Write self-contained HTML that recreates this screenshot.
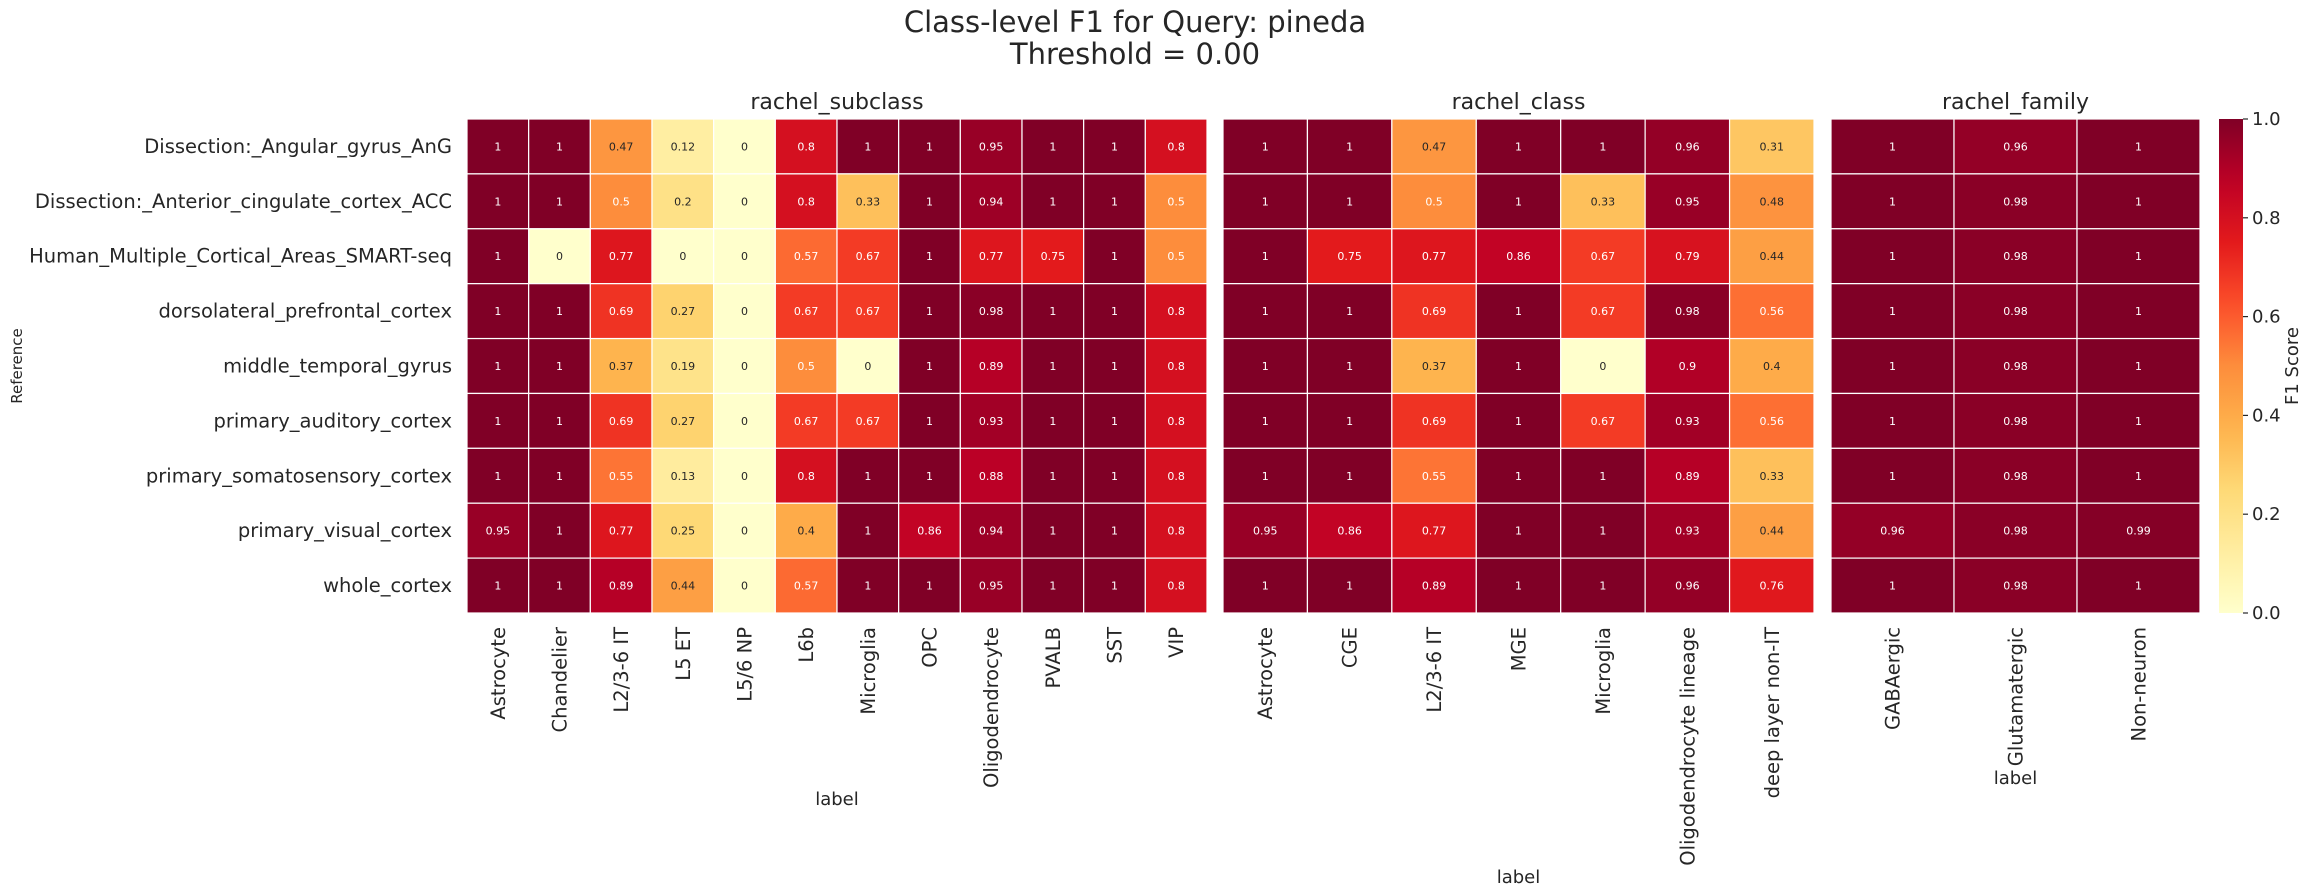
<!DOCTYPE html>
<html><head><meta charset="utf-8"><style>
html,body{margin:0;padding:0;background:#fff;}
svg{display:block;font-family:"DejaVu Sans","Liberation Sans",sans-serif;}
</style></head><body>
<svg id="chart" width="2311" height="895" viewBox="0 0 2311 895" xmlns="http://www.w3.org/2000/svg">
<text x="1135" y="32" text-anchor="middle" font-size="29" fill="#262626">Class-level F1 for Query: pineda</text>
<text x="1135" y="64" text-anchor="middle" font-size="29" fill="#262626">Threshold = 0.00</text>
<text transform="translate(22,366) rotate(-90)" text-anchor="middle" font-size="15" fill="#262626">Reference</text>
</svg>
<script>
const rows = ["Dissection:_Angular_gyrus_AnG","Dissection:_Anterior_cingulate_cortex_ACC","Human_Multiple_Cortical_Areas_SMART-seq","dorsolateral_prefrontal_cortex","middle_temporal_gyrus","primary_auditory_cortex","primary_somatosensory_cortex","primary_visual_cortex","whole_cortex"];
const subclassCats = ["Astrocyte","Chandelier","L2/3-6 IT","L5 ET","L5/6 NP","L6b","Microglia","OPC","Oligodendrocyte","PVALB","SST","VIP"];
const subclassVals = [
[1,1,0.47,0.12,0,0.8,1,1,0.95,1,1,0.8],
[1,1,0.5,0.2,0,0.8,0.33,1,0.94,1,1,0.5],
[1,0,0.77,0,0,0.57,0.67,1,0.77,0.75,1,0.5],
[1,1,0.69,0.27,0,0.67,0.67,1,0.98,1,1,0.8],
[1,1,0.37,0.19,0,0.5,0,1,0.89,1,1,0.8],
[1,1,0.69,0.27,0,0.67,0.67,1,0.93,1,1,0.8],
[1,1,0.55,0.13,0,0.8,1,1,0.88,1,1,0.8],
[0.95,1,0.77,0.25,0,0.4,1,0.86,0.94,1,1,0.8],
[1,1,0.89,0.44,0,0.57,1,1,0.95,1,1,0.8]];
const classCats = ["Astrocyte","CGE","L2/3-6 IT","MGE","Microglia","Oligodendrocyte lineage","deep layer non-IT"];
const classVals = [
[1,1,0.47,1,1,0.96,0.31],
[1,1,0.5,1,0.33,0.95,0.48],
[1,0.75,0.77,0.86,0.67,0.79,0.44],
[1,1,0.69,1,0.67,0.98,0.56],
[1,1,0.37,1,0,0.9,0.4],
[1,1,0.69,1,0.67,0.93,0.56],
[1,1,0.55,1,1,0.89,0.33],
[0.95,0.86,0.77,1,1,0.93,0.44],
[1,1,0.89,1,1,0.96,0.76]];
const familyCats = ["GABAergic","Glutamatergic","Non-neuron"];
const familyVals = [
[1,0.96,1],[1,0.98,1],[1,0.98,1],[1,0.98,1],[1,0.98,1],[1,0.98,1],[1,0.98,1],[0.96,0.98,0.99],[1,0.98,1]];
const cbTicks = [0,0.2,0.4,0.6,0.8,1.0];

const NS="http://www.w3.org/2000/svg";
const svg=document.getElementById('chart');
const stops=["#ffffcc","#ffeda0","#fed976","#feb24c","#fd8d3c","#fc4e2a","#e31a1c","#bd0026","#800026"].map(h=>[parseInt(h.slice(1,3),16),parseInt(h.slice(3,5),16),parseInt(h.slice(5,7),16)]);
function cmap(v){v=Math.max(0,Math.min(1,v));const t=v*8;const i=Math.min(7,Math.floor(t));const f=t-i;const a=stops[i],b=stops[i+1];return [0,1,2].map(k=>Math.round(a[k]+(b[k]-a[k])*f));}
function lum(c){const l=c.map(x=>{x/=255;return x<=0.03928?x/12.92:Math.pow((x+0.055)/1.055,2.4);});return 0.2126*l[0]+0.7152*l[1]+0.0722*l[2];}
function mk(tag,attrs,txt){const e=document.createElementNS(NS,tag);for(const k in attrs)e.setAttribute(k,attrs[k]);if(txt!==undefined)e.textContent=txt;svg.appendChild(e);return e;}
const topY=119,bottomY=613,rowH=(bottomY-topY)/rows.length;
function yScale(i){return topY+i*rowH;}

function panel(name,cats,vals,x0,x1,xlabelY){
  const cw=(x1-x0)/cats.length;
  const xs=j=>x0+j*cw;
  const t=mk('text',{x:(x0+x1)/2,y:109,'text-anchor':'middle','font-size':22,fill:'#262626'},name);
  
  
  for(let i=0;i<rows.length;i++){
    for(let j=0;j<cats.length;j++){
      const v=vals[i][j];const c=cmap(v);
      const r=mk('rect',{x:xs(j),y:yScale(i),width:cw,height:rowH,fill:`rgb(${c[0]},${c[1]},${c[2]})`,stroke:'#fff','stroke-width':1.2});
      
      
      const tx=mk('text',{x:xs(j)+cw/2,y:yScale(i)+rowH/2+4,'text-anchor':'middle','font-size':11,fill:lum(c)<0.408?'#ffffff':'#262626'},String(v));
      
      
    }
  }
  for(let j=0;j<cats.length;j++){
    const cx=xs(j)+cw/2;
    const tl=mk('text',{transform:`translate(${cx+7},627) rotate(-90)`,'text-anchor':'end','font-size':19.5,fill:'#262626'},cats[j]);
    
    
  }
  const xl=mk('text',{x:(x0+x1)/2,y:xlabelY,'text-anchor':'middle','font-size':18,fill:'#262626'},'label');
  
  
}
for(let i=0;i<rows.length;i++){
  const t=mk('text',{x:452,y:yScale(i)+rowH/2+6.5,'text-anchor':'end','font-size':19.5,fill:'#262626'},rows[i]);
  
  
}
panel('rachel_subclass',subclassCats,subclassVals,467,1207,805);
panel('rachel_class',classCats,classVals,1223,1814,883);
panel('rachel_family',familyCats,familyVals,1831,2200,784);

const defs=mk('defs',{});
const g=document.createElementNS(NS,'linearGradient');
g.setAttribute('id','cbg');g.setAttribute('x1','0');g.setAttribute('y1','1');g.setAttribute('x2','0');g.setAttribute('y2','0');
for(let k=0;k<=20;k++){const c=cmap(k/20);const s=document.createElementNS(NS,'stop');s.setAttribute('offset',k/20);s.setAttribute('stop-color',`rgb(${c[0]},${c[1]},${c[2]})`);g.appendChild(s);}
defs.appendChild(g);
const cb=mk('rect',{x:2219,y:topY,width:24,height:bottomY-topY,fill:'url(#cbg)'});


function cbY(v){return bottomY-v*(bottomY-topY);}
for(const v of cbTicks){
  const y=cbY(v);
  const l=mk('line',{x1:2243,x2:2248,y1:y,y2:y,stroke:'#262626','stroke-width':1.2});
  
  
  const t=mk('text',{x:2252,y:y+6,'font-size':18,fill:'#262626'},v.toFixed(1));
  
  
}
const cbl=mk('text',{transform:'translate(2298,366) rotate(-90)','text-anchor':'middle','font-size':18,fill:'#262626'},'F1 Score');


</script>
</body></html>
